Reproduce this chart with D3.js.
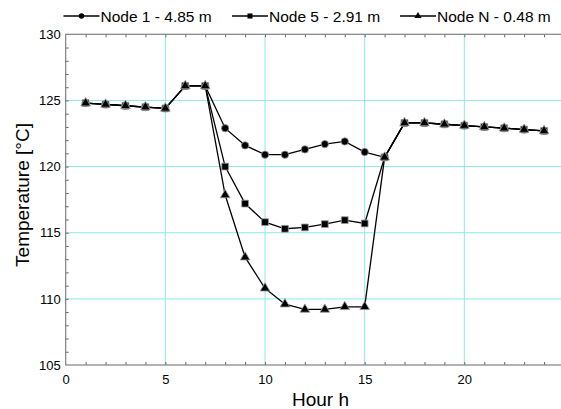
<!DOCTYPE html>
<html><head><meta charset="utf-8">
<script src="https://cdn.jsdelivr.net/npm/d3@7"></script>
<style>body{margin:0;background:#fff}svg{display:block;font-family:"Liberation Sans",Arial,sans-serif}</style>
</head><body>
<svg id="c" width="561" height="409"></svg>
<script>
const hours = [1,2,3,4,5,6,7,8,9,10,11,12,13,14,15,16,17,18,19,20,21,22,23,24];
const node1 = [124.8,124.7,124.6,124.5,124.4,126.1,126.1,122.9,121.6,120.9,120.9,121.3,121.7,121.9,121.1,120.7,123.3,123.3,123.2,123.1,123.0,122.9,122.8,122.7];
const node5 = [124.8,124.7,124.6,124.5,124.4,126.1,126.1,120.0,117.2,115.8,115.3,115.4,115.65,115.95,115.7,120.7,123.3,123.3,123.2,123.1,123.0,122.9,122.8,122.7];
const nodeN = [124.8,124.7,124.6,124.5,124.4,126.1,126.1,117.85,113.15,110.8,109.6,109.2,109.2,109.4,109.4,120.7,123.3,123.3,123.2,123.1,123.0,122.9,122.8,122.7];
const seriesNames = ["Node 1 - 4.85 m","Node 5 - 2.91 m","Node N - 0.48 m"];
const xTicks = [0,5,10,15,20];
const yTicks = [105,110,115,120,125,130];

const svg = d3.select("#c");
const L = 65.7, R = 564, T = 34.3, B = 365;
const x = d3.scaleLinear().domain([0,25]).range([L, R]);
const y = d3.scaleLinear().domain([105,130]).range([B, T]);

// grid
const g = svg.append("g");
g.selectAll("line.gx").data(xTicks.filter(d=>d>0)).join("line")
  .attr("x1",d=>x(d)).attr("x2",d=>x(d)).attr("y1",T).attr("y2",B)
  .attr("stroke","#8ee8e8").attr("stroke-width",1);
g.selectAll("line.gy").data(yTicks.filter(d=>d>105&&d<130)).join("line")
  .attr("x1",L).attr("x2",R).attr("y1",d=>y(d)).attr("y2",d=>y(d))
  .attr("stroke","#8ee8e8").attr("stroke-width",1);

// axes with inward minor ticks
const minorX = d3.range(1,25);
const minorY = d3.range(106,130);
const ax = svg.append("g").attr("transform",`translate(0,${B})`)
  .call(d3.axisBottom(x).tickValues(minorX).tickSize(-3).tickFormat(""));
const axT = svg.append("g").attr("transform",`translate(0,${T})`)
  .call(d3.axisTop(x).tickValues(minorX).tickSize(-3).tickFormat(""));
const ay = svg.append("g").attr("transform",`translate(${L},0)`)
  .call(d3.axisLeft(y).tickValues(minorY).tickSize(-3).tickFormat(""));
const ayR = svg.append("g").attr("transform",`translate(${R},0)`)
  .call(d3.axisRight(y).tickValues(minorY).tickSize(-3).tickFormat(""));
[ax,axT,ay,ayR].forEach(a=>{a.select(".domain").remove();a.selectAll("line").attr("stroke","#666");});

// tick labels via axes
const lx = svg.append("g").attr("transform",`translate(0,${B})`)
  .call(d3.axisBottom(x).tickValues(xTicks).tickSize(0).tickPadding(10).tickFormat(d3.format("d")));
lx.select(".domain").remove();
lx.selectAll("text").attr("font-size",13).attr("fill","#000").attr("font-family","Liberation Sans, Arial");
const ly = svg.append("g").attr("transform",`translate(${L},0)`)
  .call(d3.axisLeft(y).tickValues(yTicks).tickSize(0).tickPadding(5).tickFormat(d3.format("d")));
ly.select(".domain").remove();
ly.selectAll("text").attr("font-size",13).attr("fill","#000").attr("font-family","Liberation Sans, Arial");

// frame
svg.append("rect").attr("x",L).attr("y",T).attr("width",R-L).attr("height",B-T)
  .attr("fill","none").attr("stroke","#808080").attr("stroke-width",1.2);

// axis titles
svg.append("text").attr("x",320.5).attr("y",406).attr("text-anchor","middle")
  .attr("font-size",19).text("Hour h");
svg.append("text").attr("transform","translate(29,195) rotate(-90)").attr("text-anchor","middle")
  .attr("font-size",19).text("Temperature [°C]");

// series
const all = [node1,node5,nodeN];
const line = d3.line().x((d,i)=>x(hours[i])).y(d=>y(d));
const symbols = [d3.symbolCircle, d3.symbolSquare, d3.symbolTriangle];
const sizes = [42, 46, 40];
all.forEach((s,k)=>{
  svg.append("path").datum(s).attr("d",line).attr("fill","none").attr("stroke","#000").attr("stroke-width",1.3);
});
all.forEach((s,k)=>{
  svg.append("g").selectAll("path").data(s).join("path")
    .attr("transform",(d,i)=>`translate(${x(hours[i])},${y(d)})`)
    .attr("d",d3.symbol().type(symbols[k]).size(sizes[k]))
    .attr("fill","#000").attr("stroke","#999").attr("stroke-width",0.8);
});

// legend
const legX = [63.5,232,400];
const leg = svg.append("g");
seriesNames.forEach((n,k)=>{
  const lg = leg.append("g").attr("transform",`translate(${legX[k]},16)`);
  lg.append("line").attr("x1",0).attr("x2",36).attr("y1",0).attr("y2",0).attr("stroke","#000").attr("stroke-width",1.3);
  lg.append("path").attr("transform","translate(18,0)").attr("d",d3.symbol().type(symbols[k]).size(sizes[k]*0.55)).attr("fill","#000");
  lg.append("text").attr("x",37).attr("y",5.6).attr("font-size",15.5).text(n);
});
</script>
</body></html>
